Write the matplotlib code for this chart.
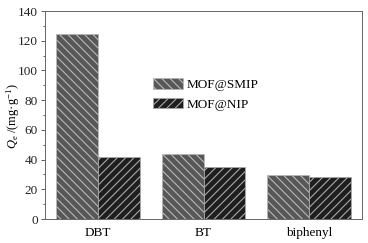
import matplotlib
matplotlib.use("Agg")
import matplotlib.pyplot as plt
import numpy as np

categories = ["DBT", "BT", "biphenyl"]
smip = [124.3, 43.9, 29.6]
nip = [41.7, 35.0, 28.3]
series_names = ["MOF@SMIP", "MOF@NIP"]

plt.rcParams['font.family'] = ['Liberation Serif', 'DejaVu Serif']
plt.rcParams['mathtext.fontset'] = 'custom'
plt.rcParams['mathtext.rm'] = 'Liberation Serif'
plt.rcParams['mathtext.it'] = 'Liberation Serif:italic'
plt.rcParams['hatch.linewidth'] = 0.8
plt.rcParams['font.size'] = 9.5

fig = plt.figure(figsize=(3.68, 2.43), dpi=100)
ax = fig.add_axes([45/368, 1 - 219/243, (362-45)/368, (219-11)/243])

x = np.arange(len(categories))
w = 0.395
ax.bar(x - w/2, smip, w, color='#575757', edgecolor='#b8b8b8', hatch='\\\\\\\\', linewidth=0.6, label=series_names[0])
ax.bar(x + w/2, nip, w, color='#1e1e1e', edgecolor='#a8a8a8', hatch='////', linewidth=0.6, label=series_names[1])

ax.set_xlim(-0.5, 2.5)
ax.set_ylim(0, 140)
ax.set_yticks(np.arange(0, 141, 20))
ax.set_yticks(np.arange(10, 140, 20), minor=True)
ax.set_xticks(x)
ax.set_xticklabels(categories)
ax.tick_params(axis='x', length=0, pad=6)
ax.tick_params(axis='y', which='major', direction='out', length=3, width=0.6, colors='#444444', labelcolor='#222222', pad=2)
ax.tick_params(axis='y', which='minor', direction='out', length=1.8, width=0.6, colors='#444444')
for s in ax.spines.values():
    s.set_color('#666666')
    s.set_linewidth(0.7)

ax.set_ylabel(r'$Q_{\rm e}$ /(mg·g$^{-1}$)', fontsize=9)
ax.yaxis.set_label_coords(-0.074, 0.495)

ax.legend(loc='upper left', bbox_to_anchor=(0.323, 0.702), frameon=False,
          handlelength=2.3, handleheight=0.85, labelspacing=0.5, handletextpad=0.25,
          fontsize=9.5, borderaxespad=0)

fig.savefig('out.png', dpi=100)
